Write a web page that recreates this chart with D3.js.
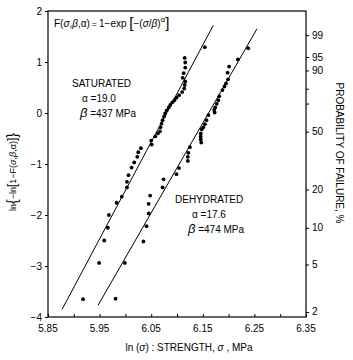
<!DOCTYPE html>
<html>
<head>
<meta charset="utf-8">
<script src="https://cdn.jsdelivr.net/npm/d3@7"></script>
<style>
  body { margin: 0; background: #fff; overflow: hidden; }
  svg { display: block; }
  svg text { font-family: "Liberation Sans", Arial, Helvetica, sans-serif; fill: #000; }
</style>
</head>
<body>
<div id="chart"></div>
<script>
// ticks
const xTicks = [5.85, 5.95, 6.05, 6.15, 6.25, 6.35];
const xMinorTicks = [5.90, 6.00, 6.10, 6.20, 6.30];
const yTicks = [-4, -3, -2, -1, 0, 1, 2];
const probTicks = [2, 5, 10, 20, 50, 70, 80, 90, 95, 99];
const probLabels = [2, 5, 10, 20, 50, 90, 95, 99];

// saturated specimens: ln(strength) and ln{-ln[1-F]}
const saturatedLnS = [5.918, 5.949, 5.959, 5.966, 5.968, 5.983, 5.993, 6.003, 6.003, 6.006,
  6.012, 6.017, 6.023, 6.025, 6.030, 6.051, 6.050, 6.058, 6.063, 6.067,
  6.068, 6.070, 6.072, 6.075, 6.077, 6.080, 6.084, 6.087, 6.091, 6.095,
  6.099, 6.104, 6.110, 6.114, 6.115, 6.116, 6.111, 6.113, 6.116, 6.116,
  6.115, 6.154];
const saturatedY = [-3.65, -2.94, -2.50, -2.25, -2.00, -1.76, -1.64, -1.46, -1.35, -1.22,
  -1.07, -0.97, -0.86, -0.77, -0.69, -0.62, -0.54, -0.46, -0.40, -0.36,
  -0.28, -0.21, -0.14, -0.07, -0.01, 0.05, 0.11, 0.16, 0.21, 0.25,
  0.30, 0.35, 0.41, 0.48, 0.55, 0.62, 0.69, 0.78, 0.89, 0.99,
  1.08, 1.29];

// dehydrated specimens
const dehydratedLnS = [5.981, 5.999, 6.035, 6.041, 6.045, 6.045, 6.048, 6.072, 6.074, 6.099,
  6.104, 6.121, 6.121, 6.122, 6.125, 6.147, 6.146, 6.146, 6.146, 6.148,
  6.151, 6.154, 6.157, 6.161, 6.173, 6.172, 6.174, 6.177, 6.180, 6.182,
  6.188, 6.192, 6.195, 6.199, 6.198, 6.201, 6.218, 6.238];
const dehydratedY = [-3.64, -2.94, -2.52, -2.22, -1.97, -1.78, -1.62, -1.46, -1.30, -1.20,
  -1.08, -0.94, -0.86, -0.78, -0.67, -0.58, -0.52, -0.46, -0.40, -0.32,
  -0.28, -0.22, -0.14, -0.04, 0.01, 0.06, 0.11, 0.18, 0.25, 0.33,
  0.45, 0.52, 0.58, 0.66, 0.79, 0.91, 1.05, 1.27];

// weibull fits
const fitNames = ['SATURATED', 'DEHYDRATED'];
const fitAlpha = [19.0, 17.6];
const fitBeta = [437, 474];
const fitYFrom = [-3.85, -3.77];
const fitYTo = [1.72, 1.65];

const { scaleLinear, axisLeft, axisRight, axisBottom, format } = d3;

const width = 353, height = 360;
const margin = { top: 11, right: 47, bottom: 43, left: 48 };
const innerWidth = width - margin.left - margin.right;
const innerHeight = height - margin.top - margin.bottom;

const svg = d3.select('#chart').append('svg')
  .attr('width', width)
  .attr('height', height);

const g = svg.append('g')
  .attr('transform', `translate(${margin.left},${margin.top})`);

const xScale = scaleLinear().domain([5.85, 6.35]).range([0, innerWidth]);
const yScale = scaleLinear().domain([-4, 2]).range([innerHeight, 0]);

const weibY = p => Math.log(-Math.log(1 - p / 100));

// frame
g.append('rect')
  .attr('width', innerWidth)
  .attr('height', innerHeight)
  .attr('fill', 'none')
  .attr('stroke', '#000')
  .attr('stroke-width', 1.2);

// tick marks from d3 axes (labels placed separately below)
g.append('g')
  .call(axisLeft(yScale).tickValues(yTicks).tickSize(3).tickFormat(''))
  .selectAll('.domain, .tick text').remove();

g.append('g')
  .attr('transform', `translate(0,${innerHeight})`)
  .call(axisBottom(xScale).tickValues(xTicks.concat(xMinorTicks)).tickSize(-3).tickFormat(''))
  .selectAll('.domain, .tick text').remove();

g.append('g')
  .attr('transform', `translate(${innerWidth},0)`)
  .call(axisRight(yScale).tickValues(probTicks.map(weibY)).tickSize(3).tickFormat(''))
  .selectAll('.domain, .tick text').remove();

svg.selectAll('.tick line').attr('stroke', '#000');

// tick labels
const yFmt = format('d');
svg.append('g').selectAll('text').data(yTicks)
  .enter().append('text')
  .attr('x', margin.left - 6)
  .attr('y', d => margin.top + yScale(d) + 3.5)
  .attr('text-anchor', 'end')
  .attr('font-size', 10)
  .text(d => yFmt(d));

const xFmt = format('.2f');
svg.append('g').selectAll('text').data(xTicks)
  .enter().append('text')
  .attr('x', d => margin.left + xScale(d))
  .attr('y', margin.top + innerHeight + 15)
  .attr('text-anchor', 'middle')
  .attr('font-size', 10)
  .text(d => xFmt(d));

svg.append('g').selectAll('text').data(probLabels)
  .enter().append('text')
  .attr('x', margin.left + innerWidth + 6)
  .attr('y', d => margin.top + yScale(weibY(d)) + 3.5)
  .attr('font-size', 10)
  .text(d => d);

// fitted lines
fitAlpha.forEach((a, i) => {
  const lnB = Math.log(fitBeta[i]);
  g.append('line')
    .attr('x1', xScale(lnB + fitYFrom[i] / a))
    .attr('y1', yScale(fitYFrom[i]))
    .attr('x2', xScale(lnB + fitYTo[i] / a))
    .attr('y2', yScale(fitYTo[i]))
    .attr('stroke', '#000')
    .attr('stroke-width', 1);
});

// points
const series = [
  saturatedLnS.map((x, i) => [x, saturatedY[i]]),
  dehydratedLnS.map((x, i) => [x, dehydratedY[i]])
];
series.forEach(pts => {
  g.append('g').selectAll('circle').data(pts)
    .enter().append('circle')
    .attr('cx', d => xScale(d[0]))
    .attr('cy', d => yScale(d[1]))
    .attr('r', 1.9)
    .attr('fill', '#000');
});

// formula
const formula = svg.append('text').attr('x', 54).attr('y', 27).attr('font-size', 10);
formula.append('tspan').text('F(');
formula.append('tspan').attr('font-style', 'italic').text('σ');
formula.append('tspan').text(',');
formula.append('tspan').attr('font-style', 'italic').text('β');
formula.append('tspan').text(',α)');
formula.append('tspan').attr('font-size', 8).text(' = ');
formula.append('tspan').text('1−exp ');
formula.append('tspan').attr('font-size', 15).attr('dy', 1).text('[');
formula.append('tspan').attr('dy', -1).text('−(');
formula.append('tspan').attr('font-style', 'italic').text('σ');
formula.append('tspan').text('/');
formula.append('tspan').attr('font-style', 'italic').text('β');
formula.append('tspan').text(')');
formula.append('tspan').attr('font-size', 8).attr('dy', -5).text('α');
formula.append('tspan').attr('font-size', 15).attr('dy', 6).text(']');

// legend texts
const legendX = [72, 175];
const legendY = [87, 203];
const legendSub = [[82, 80], [192, 188]];
fitNames.forEach((name, i) => {
  svg.append('text').attr('x', legendX[i]).attr('y', legendY[i]).attr('font-size', 10).text(name);
  svg.append('text').attr('x', legendSub[i][0]).attr('y', legendY[i] + 15).attr('font-size', 10)
    .text(`α =${fitAlpha[i].toFixed(1)}`);
  const b = svg.append('text').attr('x', legendSub[i][1]).attr('y', legendY[i] + 30).attr('font-size', 10);
  b.append('tspan').attr('font-style', 'italic').attr('font-size', 13).text('β');
  b.append('tspan').text(` =${fitBeta[i]} MPa`);
});

// axis titles
const xTitle = svg.append('text')
  .attr('x', margin.left + innerWidth / 2 + 12)
  .attr('y', 351)
  .attr('text-anchor', 'middle')
  .attr('font-size', 10);
xTitle.append('tspan').text('ln (');
xTitle.append('tspan').attr('font-style', 'italic').text('σ');
xTitle.append('tspan').text(') : STRENGTH, ');
xTitle.append('tspan').attr('font-style', 'italic').text('σ');
xTitle.append('tspan').text(' , MPa');

const yTitle = svg.append('text')
  .attr('transform', 'translate(16,172) rotate(-90)')
  .attr('text-anchor', 'middle')
  .attr('font-size', 9);
yTitle.append('tspan').text('ln');
yTitle.append('tspan').attr('font-size', 14).attr('dy', 1).text('{');
yTitle.append('tspan').attr('dy', -1).text('−ln');
yTitle.append('tspan').attr('font-size', 12).text('[');
yTitle.append('tspan').text('1−F(');
yTitle.append('tspan').attr('font-style', 'italic').text('σ');
yTitle.append('tspan').text(',');
yTitle.append('tspan').attr('font-style', 'italic').text('β');
yTitle.append('tspan').text(',α)');
yTitle.append('tspan').attr('font-size', 12).text(']');
yTitle.append('tspan').attr('font-size', 14).attr('dy', 1).text('}');

svg.append('text')
  .attr('transform', 'translate(336,153) rotate(90)')
  .attr('text-anchor', 'middle')
  .attr('font-size', 10)
  .text('PROBABILITY OF FAILURE, %');
</script>
</body>
</html>
